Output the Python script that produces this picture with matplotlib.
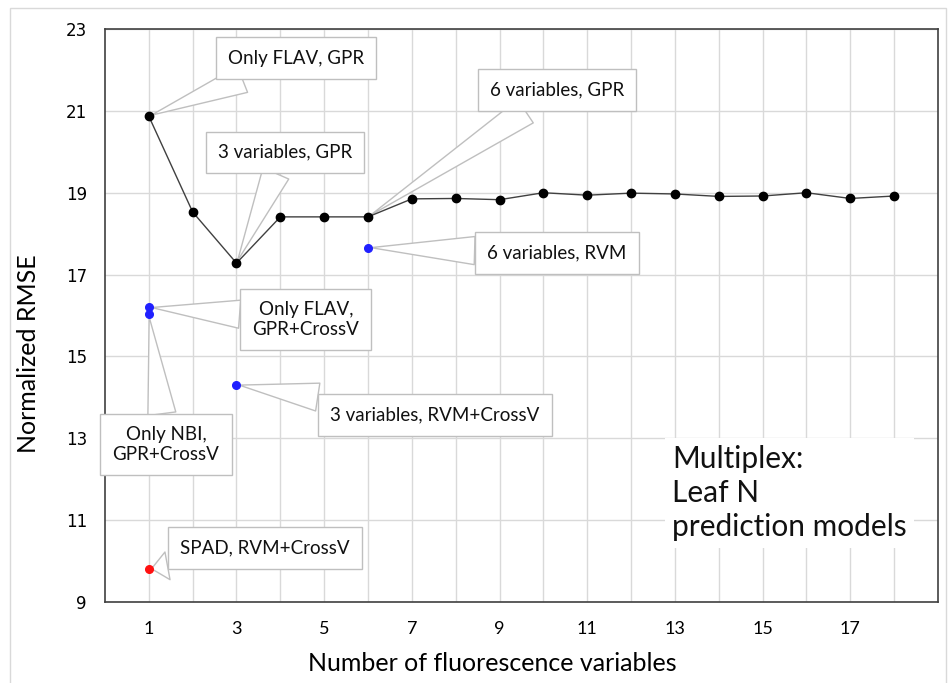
import matplotlib
matplotlib.use("Agg")
import matplotlib.pyplot as plt
from matplotlib.patches import Rectangle

# GPR series (black line)
n_vars = list(range(1, 19))
rmse_gpr = [20.87, 18.53, 17.28, 18.41, 18.41, 18.41, 18.85, 18.86, 18.83,
            19.00, 18.94, 18.99, 18.97, 18.91, 18.92, 19.00, 18.86, 18.92]

# other models (single points)
blue_x = [1, 1, 3, 6]
blue_y = [16.20, 16.03, 14.31, 17.66]
red_x = [1]
red_y = [9.80]

# callouts: text, point it refers to, box centre
callout_text = ["Only FLAV, GPR", "3 variables, GPR", "6 variables, GPR",
                "6 variables, RVM", "Only FLAV,\nGPR+CrossV", "Only NBI,\nGPR+CrossV",
                "3 variables, RVM+CrossV", "SPAD, RVM+CrossV"]
callout_pt = [(1, 20.87), (3, 17.28), (6, 18.41), (6, 17.66),
              (1, 16.20), (1, 16.03), (3, 14.31), (1, 9.80)]
callout_box = [(4.36, 22.29), (4.11, 19.99), (10.31, 21.51), (10.31, 17.53),
               (4.58, 15.91), (1.39, 12.84), (7.53, 13.57), (3.65, 10.32)]

xtick_labels = [str(v) if v % 2 == 1 else "" for v in n_vars]
yticks = [9, 11, 13, 15, 17, 19, 21, 23]

plt.rcParams["font.family"] = ["Lato", "DejaVu Sans"]

fig = plt.figure(figsize=(9.49, 6.83), dpi=100)
ax = fig.add_axes([0.1106, 0.1186, 0.8778, 0.8389])

# thin frame round the whole picture
fig.patches.append(Rectangle((10 / 949, -0.05), 936 / 949, 1 - 8 / 683 + 0.05,
                             transform=fig.transFigure, fill=False,
                             ec="#d9d9d9", lw=1))

ax.plot(n_vars, rmse_gpr, color="#404040", lw=1, marker="o", ms=6,
        mfc="black", mec="black", zorder=4)
ax.plot(blue_x, blue_y, "o", color="#2020ff", ms=5.5, zorder=4)
ax.plot(red_x, red_y, "o", color="#ff1010", ms=5.5, zorder=4)

for txt, pt, box in zip(callout_text, callout_pt, callout_box):
    ax.annotate(txt, xy=pt, xytext=box, ha="center", va="center",
                fontsize=13.5, color="#111111", multialignment="center",
                bbox=dict(boxstyle="square,pad=0.65", fc="white", ec="#bfbfbf", lw=1),
                arrowprops=dict(arrowstyle="wedge,tail_width=1.5", fc="white",
                                ec="#bfbfbf", lw=1, shrinkA=0, shrinkB=2),
                zorder=3)

ax.text(0.6807, 0.274, "Multiplex:\nLeaf N\nprediction models",
        transform=ax.transAxes, fontsize=21.5, color="#111111",
        ha="left", va="top", linespacing=1.25,
        bbox=dict(boxstyle="square,pad=0.25", fc="white", ec="none"), zorder=2)

ax.set_xlim(0, 19)
ax.set_ylim(9, 23)
ax.set_xticks(n_vars)
ax.set_xticklabels(xtick_labels, fontsize=13)
ax.set_yticks(yticks)
ax.set_yticklabels([str(v) for v in yticks], fontsize=12, family="DejaVu Sans")
ax.tick_params(length=0)
ax.tick_params(axis="x", pad=14)
ax.tick_params(axis="y", pad=13)
ax.grid(True, color="#d9d9d9", lw=1)
ax.set_axisbelow(True)
for s in ax.spines.values():
    s.set_color("#404040")
    s.set_linewidth(1.2)

ax.set_xlabel("Number of fluorescence variables", fontsize=18)
ax.set_ylabel("Normalized RMSE", fontsize=18)
ax.xaxis.set_label_coords(0.465, -0.088)
ax.yaxis.set_label_coords(-0.078, 0.433)

fig.savefig("out.png", dpi=100)
